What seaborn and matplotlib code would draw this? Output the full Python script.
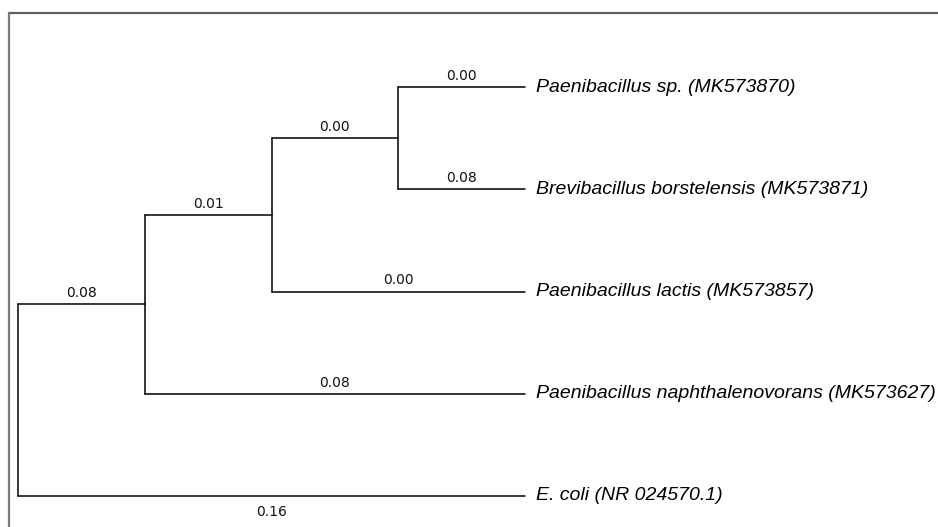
import pandas as pd
import matplotlib
matplotlib.use("Agg")
import matplotlib.pyplot as plt
from matplotlib.lines import Line2D
import seaborn as sns

# tree topology: node -> parent (None for root); leaves listed top to bottom
taxa = [
    "Paenibacillus sp. (MK573870)",
    "Brevibacillus borstelensis (MK573871)",
    "Paenibacillus lactis (MK573857)",
    "Paenibacillus naphthalenovorans (MK573627)",
    "E. coli (NR 024570.1)",
]
nodes = ["root", "A", "B", "C"] + taxa
parents = [None, "root", "A", "B", "C", "C", "B", "A", "root"]
branch_labels = [None, "0.08", "0.01", "0.00", "0.00", "0.08", "0.00", "0.08", "0.16"]
label_below = ["E. coli (NR 024570.1)"]


def build_layout():
    children = {n: [] for n in nodes}
    for n, p in zip(nodes, parents):
        if p is not None:
            children[p].append(n)
    depth, ypos = {}, {}

    def walk(n, d):
        depth[n] = d
        for c in children[n]:
            walk(c, d + 1)
    walk("root", 0)
    max_depth = max(depth[t] for t in taxa)
    for i, t in enumerate(taxa):
        ypos[t] = i
        depth[t] = max_depth  # cladogram: leaves aligned

    def set_y(n):
        if n in ypos:
            return ypos[n]
        ys = [set_y(c) for c in children[n]]
        ypos[n] = (min(ys) + max(ys)) / 2
        return ypos[n]
    set_y("root")
    return children, depth, ypos


children, depth, ypos = build_layout()

rows = []
seg = 0
for n, p in zip(nodes, parents):
    if p is None:
        continue
    rows.append({"seg": seg, "x": depth[p], "y": ypos[n]})
    rows.append({"seg": seg, "x": depth[n], "y": ypos[n]})
    seg += 1
for n in nodes:
    if children[n]:
        ys = [ypos[c] for c in children[n]]
        rows.append({"seg": seg, "x": depth[n], "y": min(ys)})
        rows.append({"seg": seg, "x": depth[n], "y": max(ys)})
        seg += 1
segments = pd.DataFrame(rows)

sns.set_theme(style="white")
plt.rcParams["font.family"] = ["DejaVu Sans"]

fig = plt.figure(figsize=(9.38, 5.27), dpi=100)
ax = fig.add_axes([0, 0, 1, 1])
sns.lineplot(data=segments, x="x", y="y", units="seg", estimator=None,
             sort=False, color="black", linewidth=1.1, ax=ax, legend=False)

px_x = 126.75
px_y = 102.25
ax.set_xlim(-18 / px_x, (938 - 18) / px_x)
ax.set_ylim((527 - 87) / px_y, -87 / px_y)
ax.axis("off")

for n, p, lab in zip(nodes, parents, branch_labels):
    if p is None:
        continue
    xm = (depth[p] + depth[n]) / 2
    if n in label_below:
        ax.text(xm, ypos[n] + 0.16, lab, ha="center", va="center", fontsize=10,
                color="#111111")
    else:
        ax.text(xm, ypos[n] - 0.11, lab, ha="center", va="center", fontsize=10,
                color="#111111")

for t in taxa:
    ax.text(depth[t] + 11 / px_x, ypos[t], t, ha="left", va="center",
            fontsize=14, style="italic", family="Liberation Sans", color="black")

# grey frame along top and left edges
fig.add_artist(Line2D([8.5 / 938, 1], [1 - 12.5 / 527, 1 - 12.5 / 527],
                      transform=fig.transFigure, color="#5f5f5f", linewidth=1.6))
fig.add_artist(Line2D([8.5 / 938, 8.5 / 938], [0, 1 - 12.5 / 527],
                      transform=fig.transFigure, color="#7a7a7a", linewidth=1.6))

fig.savefig("out.png", dpi=100, facecolor="white")
